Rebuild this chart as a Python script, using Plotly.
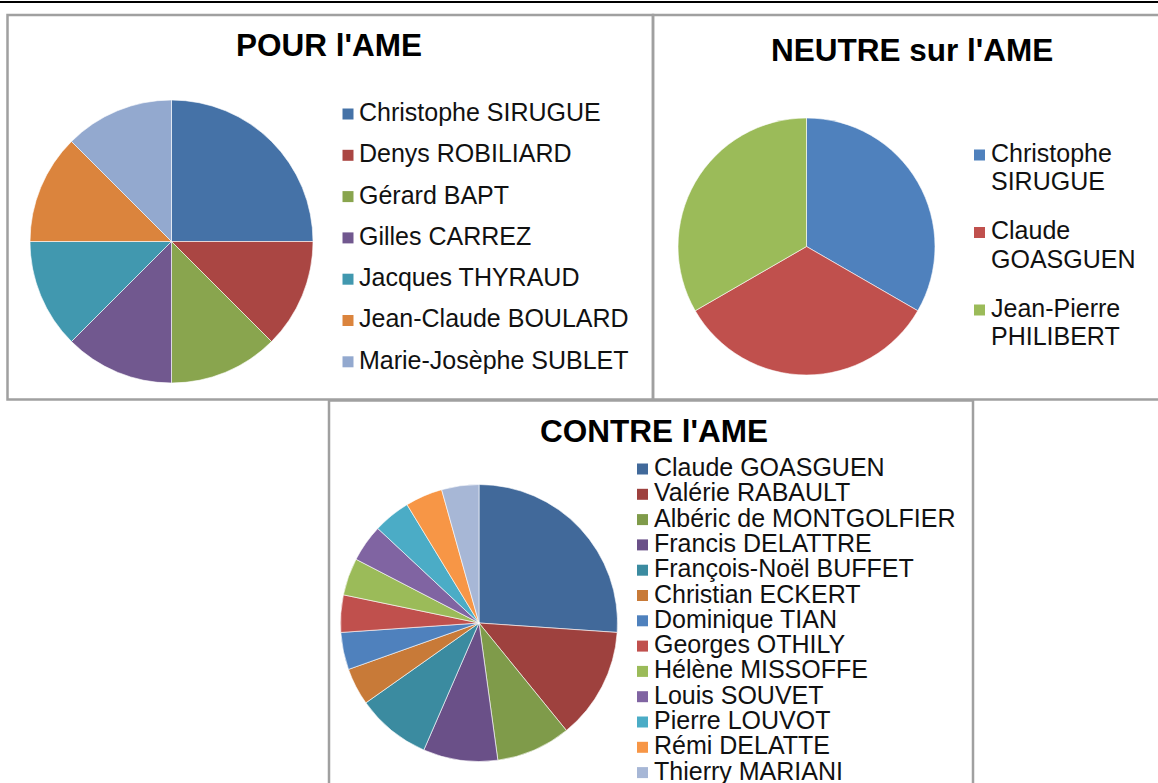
import plotly.graph_objects as go

# Votes per deputy, grouped by position on the AME
pour_labels = ["Christophe SIRUGUE", "Denys ROBILIARD", "Gérard BAPT", "Gilles CARREZ",
               "Jacques THYRAUD", "Jean-Claude BOULARD", "Marie-Josèphe SUBLET"]
pour_values = [2, 1, 1, 1, 1, 1, 1]

neutre_labels = ["Christophe SIRUGUE", "Claude GOASGUEN", "Jean-Pierre PHILIBERT"]
neutre_values = [1, 1, 1]

contre_labels = ["Claude GOASGUEN", "Valérie RABAULT", "Albéric de MONTGOLFIER",
                 "Francis DELATTRE", "François-Noël BUFFET", "Christian ECKERT",
                 "Dominique TIAN", "Georges OTHILY", "Hélène MISSOFFE", "Louis SOUVET",
                 "Pierre LOUVOT", "Rémi DELATTE", "Thierry MARIANI"]
contre_values = [6, 3, 2, 2, 2, 1, 1, 1, 1, 1, 1, 1, 1]

pour_colors = ["#4572A7", "#AA4643", "#89A54E", "#71588F", "#4198AF", "#DB843D", "#93A9CF"]
neutre_colors = ["#4F81BD", "#C0504D", "#9BBB59"]
contre_colors = ["#41699A", "#9E413E", "#7F9B4A", "#6A5088", "#3B8BA0", "#C87A38",
                 "#4F81BD", "#C0504D", "#9BBB59", "#8064A2", "#4BACC6", "#F79646", "#A7B7D6"]

W, H = 1158, 783
FONT = "Liberation Sans, Arial, sans-serif"


def fx(x):
    return x / W


def fy(y):
    return 1 - y / H


def pie_domain(cx, cy, r):
    return dict(x=[fx(cx - r), fx(cx + r)], y=[fy(cy + r), fy(cy - r)])


fig = go.Figure()

for labels, values, colors, (cx, cy, r) in [
    (pour_labels, pour_values, pour_colors, (171.5, 241.5, 141.5)),
    (neutre_labels, neutre_values, neutre_colors, (806.5, 246.5, 128.5)),
    (contre_labels, contre_values, contre_colors, (479, 623, 138.5)),
]:
    fig.add_trace(go.Pie(
        labels=labels, values=values, sort=False, direction="clockwise", rotation=0,
        marker=dict(colors=colors, line=dict(color="white", width=0.6)),
        textinfo="none", hoverinfo="label+value", showlegend=False,
        domain=pie_domain(cx, cy, r),
    ))

shapes = []
annotations = []

# Page rule and panel frames
shapes.append(dict(type="line", xref="paper", yref="paper", x0=0, x1=1, y0=fy(2), y1=fy(2),
                   line=dict(color="black", width=2)))
frame = dict(color="#A0A0A0", width=2.5)
for x0, y0, x1, y1 in [(7.5, 15, 653, 399.5), (653, 15, 1170, 399.5), (329, 400.5, 973, 800)]:
    shapes.append(dict(type="rect", xref="paper", yref="paper",
                       x0=fx(x0), x1=fx(x1), y0=fy(y1), y1=fy(y0), line=frame))

# Titles
for text, x, y in [("POUR l'AME", 329, 45), ("NEUTRE sur l'AME", 912, 50), ("CONTRE l'AME", 654, 431)]:
    annotations.append(dict(text=f"<b>{text}</b>", x=fx(x), y=fy(y), xref="paper", yref="paper",
                            xanchor="center", yanchor="middle", showarrow=False,
                            font=dict(family=FONT, size=31.5, color="black")))


def legend_entry(lines, color, sq_x, text_x, y0, line_gap):
    shapes.append(dict(type="rect", xref="paper", yref="paper", line=dict(width=0),
                       fillcolor=color, x0=fx(sq_x), x1=fx(sq_x + 11),
                       y0=fy(y0 + 7.5), y1=fy(y0 - 3.5)))
    for k, line in enumerate(lines):
        annotations.append(dict(text=line, x=fx(text_x), y=fy(y0 + k * line_gap),
                                xref="paper", yref="paper", xanchor="left", yanchor="middle",
                                showarrow=False, font=dict(family=FONT, size=25, color="#111111")))


for i, (lab, col) in enumerate(zip(pour_labels, pour_colors)):
    legend_entry([lab], col, 342.5, 357, 112 + 41.3 * i, 0)

for i, (lab, col) in enumerate(zip(neutre_labels, neutre_colors)):
    legend_entry(lab.split(" ", 1), col, 974, 989, 153 + 77.5 * i, 28)

for i, (lab, col) in enumerate(zip(contre_labels, contre_colors)):
    legend_entry([lab], col, 637, 652, 467 + 25.3 * i, 0)

fig.update_layout(
    width=W, height=H, margin=dict(l=0, r=0, t=0, b=0),
    paper_bgcolor="white", plot_bgcolor="white",
    shapes=shapes, annotations=annotations,
    font=dict(family=FONT),
)

fig.write_html("out.html", config={"displayModeBar": False})
